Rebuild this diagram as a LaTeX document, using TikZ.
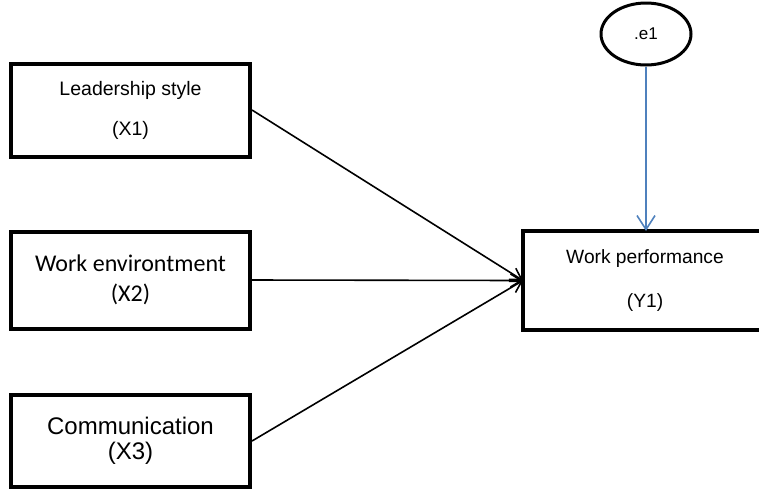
\documentclass[tikz,border=0pt]{standalone}
\usepackage{fontspec}
\setmainfont{Liberation Sans}
\newfontfamily\calibrifont{Carlito}
\usepackage{xcolor}
\usetikzlibrary{shapes.geometric}
\usetikzlibrary{arrows.meta}
\definecolor{errblue}{RGB}{79,129,189}

\tikzset{
  var/.style={draw, line width=2pt, rectangle, minimum width=119.5pt, align=center, inner sep=0pt},
  err/.style={draw, line width=1.5pt, ellipse, minimum width=45pt, minimum height=31pt, inner sep=0pt, font=\fontsize{8.5}{10}\selectfont},
  effect/.style={-{Straight Barb[length=5.5pt,width=6.5pt]}, line width=0.8pt},
}

\begin{document}
\begin{tikzpicture}[x=0.5pt,y=-0.5pt]
\useasboundingbox (0,0) rectangle (759,494);

\node[var, minimum height=46.5pt, font=\fontsize{9.75}{20}\selectfont] (x1) at (130.5,110) {Leadership style\\(X1)};
\node[var, minimum height=48.5pt, font=\calibrifont\fontsize{12}{15}\selectfont] (x2) at (130.5,280) {Work environtment\\(X2)};
\node[var, minimum height=46pt, font=\fontsize{12}{12.5}\selectfont] (x3) at (130.5,441) {Communication\\(X3)};

% box runs past the right edge, so only three sides
\node[var, draw=none, minimum width=160pt, minimum height=47.5pt] (y1) at (685,280.5) {};
\draw[line width=2pt] (y1.north east) -- (y1.north west) -- (y1.south west) -- (y1.south east);
\node[align=center, inner sep=0pt, font=\fontsize{9.6}{22}\selectfont] (y1text) at (645,280.5) {Work performance\\(Y1)};
\node[err] (e1) at (646,34) {.e1};

\draw[effect] (x1.east) -- (y1.west);
\draw[effect] (x2.east) -- (y1.west);
\draw[effect] (x3.east) -- (y1.west);
\draw[effect, errblue, -{Straight Barb[length=7pt,width=9pt]}] (e1.south) -- (e1.south |- y1.north);
\end{tikzpicture}
\end{document}
